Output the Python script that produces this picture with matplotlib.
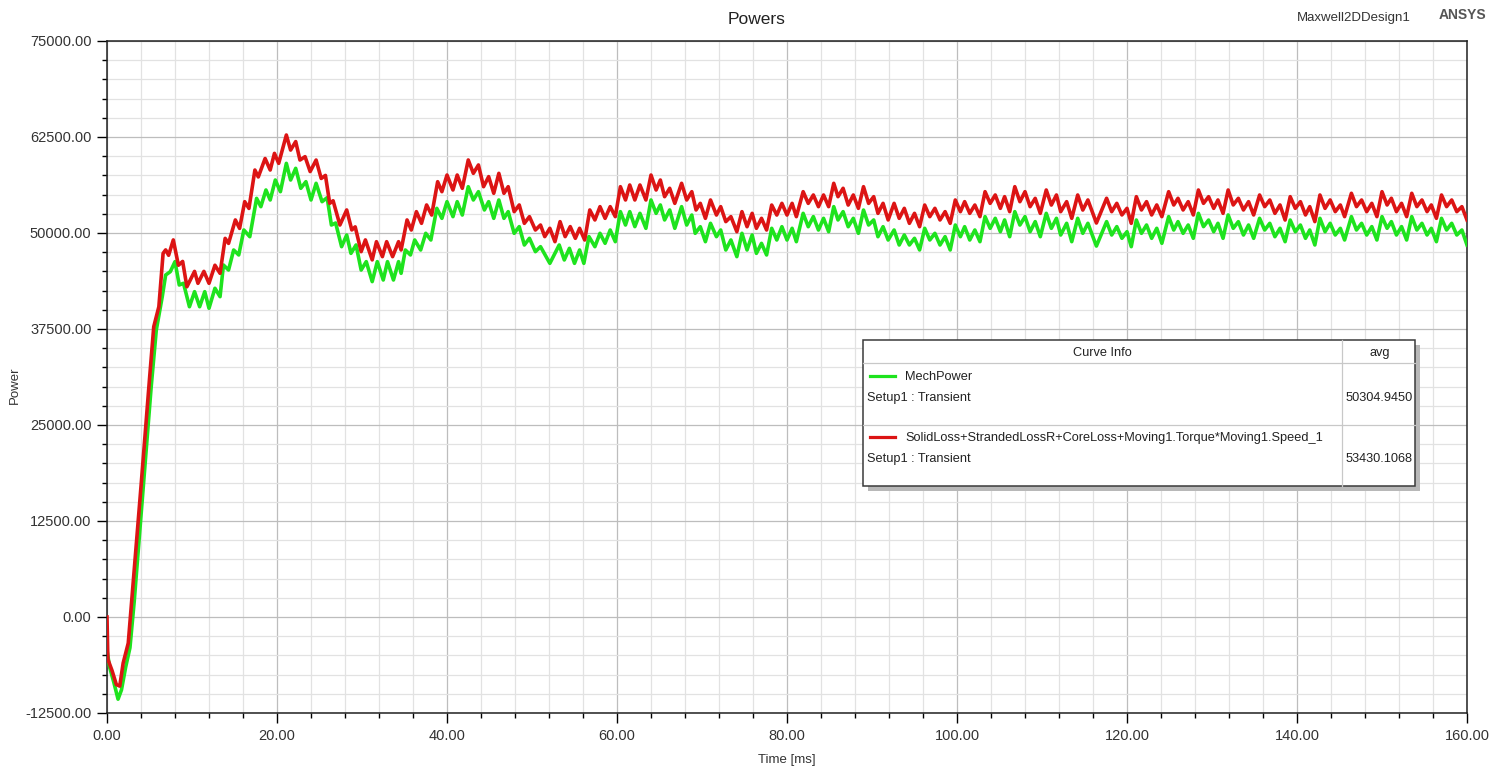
import matplotlib
matplotlib.use("Agg")
import matplotlib.pyplot as plt
from matplotlib.patches import Rectangle
from matplotlib.ticker import MultipleLocator, FormatStrFormatter

plt.rcParams['font.family'] = ['Liberation Sans', 'DejaVu Sans']

# MechPower (green): time [ms], power [W]
mech_t = [0.0, 0.3, 0.8, 1.3, 1.7, 2.2, 2.7, 3.2, 3.7, 4.2, 4.7, 5.2, 5.8, 6.5, 6.9, 7.45,
          8.0, 8.5, 9.0, 9.7, 10.3, 10.9, 11.5, 12.0, 12.7, 13.3, 13.7, 14.3, 14.9, 15.5,
          16.1, 16.8, 17.6, 18.1, 18.7, 19.2, 19.8, 20.4, 21.1, 21.6, 22.2, 22.8, 23.4,
          24.0, 24.6, 25.3, 25.9, 26.4, 26.9, 27.6, 28.2, 28.7, 29.3, 29.9, 30.5, 31.2,
          31.8, 32.5, 33.0, 33.7, 34.3, 34.6, 35.1, 35.7, 36.2, 36.9, 37.5, 38.1, 38.8,
          39.4, 40.0, 40.7, 41.2, 41.8, 42.5, 43.1, 43.7, 44.4, 44.9, 45.5, 46.1, 46.7,
          47.2, 47.9, 48.5, 49.1, 49.7, 50.4, 51.0, 52.1, 53.2, 53.8, 54.4, 55.0, 55.6,
          56.1, 56.7, 57.4, 58.0, 58.6, 59.2, 59.8, 60.4, 61.0, 61.5, 62.1, 62.7, 63.4,
          64.0, 64.6, 65.1, 65.6, 66.2, 66.8, 67.6, 68.2, 68.8, 69.2, 69.8, 70.4, 71.0,
          71.7, 72.2, 72.8, 73.4, 74.1, 74.7, 75.3, 75.9, 76.4, 77.0, 77.6, 78.2, 78.8,
          79.4, 80.0, 80.6, 81.1, 81.9, 82.5, 83.1, 83.7, 84.3, 84.9, 85.5, 86.0, 86.6,
          87.2, 87.8, 88.4, 89.0, 89.6, 90.2, 90.7, 91.3, 91.9, 92.6, 93.2, 93.8, 94.4,
          95.0, 95.6, 96.2, 96.8, 97.4, 98.0, 98.6, 99.2, 99.8, 100.4, 100.9, 101.5,
          102.1, 102.7, 103.3, 103.9, 104.5, 105.1, 105.6, 106.2, 106.8, 107.4, 108.0,
          108.6, 109.2, 109.8, 110.5, 111.1, 111.7, 112.2, 112.9, 113.5, 114.2, 114.8,
          115.4, 116.4, 117.6, 118.2, 118.8, 119.4, 120.0, 120.5, 121.1, 121.7, 122.3,
          122.9, 123.5, 124.1, 124.9, 125.5, 126.0, 126.6, 127.2, 127.8, 128.4, 129.0,
          129.6, 130.2, 130.7, 131.3, 131.9, 132.5, 133.1, 133.7, 134.3, 134.9, 135.6,
          136.2, 136.8, 137.4, 138.0, 138.6, 139.2, 139.8, 140.4, 141.0, 141.5, 142.1,
          142.7, 143.3, 143.9, 144.5, 145.1, 145.6, 146.4, 147.0, 147.6, 148.2, 148.8,
          149.4, 150.0, 150.6, 151.1, 151.7, 152.3, 152.9, 153.5, 154.1, 154.7, 155.3,
          155.8, 156.4, 157.0, 157.6, 158.2, 158.8, 159.4, 160.0]
mech_p = [-4300, -6500, -8500, -10700, -9500, -6500, -4000, 2000, 9000, 16000, 23000, 30000,
          37370, 41710, 44530, 44970, 46270, 43230, 43450, 40400, 42360, 40400, 42360, 40200,
          42800, 41710, 45830, 45180, 47790, 47140, 50390, 49520, 54510, 53430, 55600, 54300,
          56900, 55380, 59070, 56900, 58420, 55820, 56680, 54300, 56470, 54080, 54600, 51040,
          51300, 48220, 49740, 47350, 48440, 45180, 46270, 43670, 46270, 43880, 46270, 43880,
          46270, 44750, 47790, 47140, 49090, 47790, 49960, 49090, 53210, 51910, 54080, 52130,
          54080, 52340, 56030, 54300, 55380, 53000, 54080, 51910, 54300, 51910, 52780, 49960,
          50830, 48440, 49310, 47570, 48220, 46050, 48440, 46490, 48000, 46050, 47790, 46050,
          49530, 48220, 49960, 48660, 50390, 48870, 52780, 51040, 52780, 50830, 52560, 50610,
          54300, 52560, 53650, 51700, 53000, 50610, 53430, 51040, 52340, 49960, 50820, 48870,
          51260, 49520, 50390, 47790, 49090, 46920, 49960, 47790, 49740, 47350, 48650, 47140,
          50610, 49090, 50820, 49090, 50610, 48870, 52560, 50820, 52130, 50390, 51910, 50170,
          53430, 51700, 52780, 50820, 51910, 49960, 52990, 51040, 51700, 49520, 50820, 49090,
          50390, 48440, 49740, 48440, 49310, 47790, 50610, 49090, 49960, 48440, 49520, 47790,
          51040, 49520, 50820, 49090, 50390, 48870, 52130, 50610, 51910, 50170, 51700, 49520,
          52780, 51040, 52130, 50170, 51480, 49520, 52560, 50610, 51910, 49740, 51260, 48870,
          51910, 49960, 51260, 48300, 51480, 49740, 50830, 49310, 50170, 48220, 51690, 49960,
          51040, 49310, 50610, 48660, 52130, 50390, 51480, 49960, 51040, 49310, 52560, 50830,
          51690, 50170, 51260, 49310, 52350, 50610, 51480, 49740, 51040, 49310, 51910, 50390,
          51260, 49520, 50610, 48870, 51690, 50170, 51040, 49310, 50390, 48440, 51910, 50170,
          51260, 49740, 50610, 49090, 52130, 50390, 51260, 49740, 50830, 49090, 52130, 50610,
          51480, 49740, 50830, 49090, 52130, 50390, 51260, 49740, 50610, 48870, 51910, 50390,
          51260, 49740, 50390, 48440]

# SolidLoss+StrandedLossR+CoreLoss+Moving1.Torque*Moving1.Speed_1 (red)
total_t = [0.0, 0.1, 0.6, 1.1, 1.5, 1.9, 2.5, 2.9, 3.5, 4.0, 4.5, 5.0, 5.5, 6.1, 6.6, 6.9,
           7.25, 7.8, 8.4, 8.9, 9.4, 10.3, 10.7, 11.4, 12.0, 12.7, 13.3, 13.9, 14.3, 15.1,
           15.6, 16.2, 16.7, 17.4, 17.8, 18.6, 19.2, 19.7, 20.2, 21.1, 21.6, 22.2, 22.7,
           23.3, 23.9, 24.6, 25.2, 25.7, 26.2, 26.6, 27.4, 28.2, 28.8, 29.2, 29.9, 30.4,
           31.2, 31.7, 32.4, 32.9, 33.6, 34.3, 34.6, 35.3, 35.8, 36.4, 37.0, 37.6, 38.2,
           38.9, 39.4, 40.0, 40.7, 41.2, 41.8, 42.5, 43.1, 43.7, 44.3, 44.9, 45.5, 46.1,
           46.7, 47.2, 47.9, 48.5, 49.1, 49.7, 50.4, 51.0, 51.5, 52.1, 52.7, 53.3, 53.9,
           54.5, 55.1, 55.6, 56.2, 56.8, 57.4, 58.0, 58.6, 59.2, 59.8, 60.4, 61.0, 61.5,
           62.1, 62.7, 63.4, 64.0, 64.6, 65.1, 65.6, 66.2, 66.8, 67.6, 68.2, 68.8, 69.3,
           69.8, 70.4, 71.0, 71.7, 72.2, 72.8, 73.4, 74.1, 74.7, 75.3, 75.9, 76.4, 77.0,
           77.6, 78.2, 78.8, 79.4, 80.0, 80.6, 81.1, 81.9, 82.5, 83.1, 83.7, 84.3, 84.9,
           85.5, 86.0, 86.6, 87.2, 87.8, 88.4, 89.0, 89.6, 90.2, 90.7, 91.3, 91.9, 92.6,
           93.2, 93.8, 94.4, 95.0, 95.6, 96.2, 96.8, 97.4, 98.0, 98.6, 99.2, 99.8, 100.4,
           100.9, 101.5, 102.1, 102.7, 103.3, 103.9, 104.5, 105.1, 105.6, 106.2, 106.8,
           107.4, 108.0, 108.6, 109.2, 109.8, 110.5, 111.1, 111.7, 112.2, 112.9, 113.5,
           114.2, 114.8, 115.4, 116.4, 117.6, 118.2, 118.8, 119.4, 120.0, 120.5, 121.1,
           121.7, 122.3, 122.9, 123.5, 124.1, 124.9, 125.5, 126.0, 126.6, 127.2, 127.8,
           128.4, 129.0, 129.6, 130.2, 130.7, 131.3, 131.9, 132.5, 133.1, 133.7, 134.3,
           134.9, 135.6, 136.2, 136.8, 137.4, 138.0, 138.6, 139.2, 139.8, 140.4, 141.0,
           141.5, 142.1, 142.7, 143.3, 143.9, 144.5, 145.1, 145.6, 146.4, 147.0, 147.6,
           148.2, 148.8, 149.4, 150.0, 150.6, 151.1, 151.7, 152.3, 152.9, 153.5, 154.1,
           154.7, 155.3, 155.8, 156.4, 157.0, 157.6, 158.2, 158.8, 159.4, 160.0]
total_p = [0, -5500, -7000, -8800, -9000, -6000, -3400, 2000, 10000, 17000, 24000, 31000,
           37800, 40400, 47350, 47800, 47100, 49100, 45800, 46300, 43000, 45000, 43450, 45000,
           43450, 45800, 44750, 49300, 48650, 51700, 50600, 54080, 53200, 58200, 57300, 59700,
           58200, 60370, 59070, 62760, 60800, 61900, 59500, 59940, 58000, 59500, 57100, 57500,
           53860, 54200, 51040, 53000, 50400, 50800, 47570, 49100, 46500, 48870, 46920, 48870,
           46920, 48870, 47790, 51700, 50390, 52780, 51260, 53650, 52340, 56680, 55380, 57550,
           55600, 57550, 55820, 59510, 57770, 58860, 56030, 57340, 55170, 57770, 55170, 56030,
           52780, 53650, 51260, 52130, 50390, 51040, 49530, 50610, 48870, 51480, 49530, 50830,
           49310, 50610, 49090, 53000, 51700, 53430, 51910, 53430, 52130, 56030, 54300, 56250,
           54300, 56250, 54300, 57550, 55600, 56900, 54730, 55820, 53860, 56470, 54300, 55380,
           53000, 53860, 51910, 54300, 52340, 53430, 51480, 52130, 50170, 52780, 50820, 52560,
           50610, 51910, 50390, 53640, 52340, 53860, 52340, 53860, 52130, 55380, 53860, 54950,
           53430, 54950, 53430, 56470, 54730, 55820, 53640, 54950, 53210, 56030, 53860, 54730,
           52560, 53860, 51700, 53860, 51910, 53210, 51260, 52560, 50820, 53640, 52130, 53210,
           51700, 52780, 51260, 54300, 52780, 54080, 52560, 53640, 52130, 55380, 53860, 54950,
           53210, 54730, 52780, 56030, 54080, 55380, 53430, 54510, 52560, 55600, 53640, 54950,
           52780, 54080, 51910, 54950, 52990, 54300, 51300, 54520, 52780, 53860, 52350, 53210,
           51260, 54730, 53000, 54080, 52350, 53650, 52130, 55380, 53650, 54520, 53000, 54080,
           52350, 55600, 53860, 54730, 53210, 54300, 52560, 55600, 53650, 54520, 53000, 54080,
           52350, 54950, 53430, 54300, 52560, 53650, 51690, 54730, 53210, 54080, 52350, 53430,
           51480, 54950, 53210, 54300, 52780, 53650, 52130, 55170, 53430, 54300, 52780, 53860,
           52130, 55380, 53650, 54520, 52780, 53860, 52130, 55170, 53430, 54300, 52780, 53650,
           51910, 54950, 53430, 54300, 52780, 53430, 51690]

legend_names = ['MechPower', 'SolidLoss+StrandedLossR+CoreLoss+Moving1.Torque*Moving1.Speed_1']
legend_avg = ['50304.9450', '53430.1068']
GREEN = '#1ee31e'
RED = '#dc1414'
TXT = '#333333'

W, H = 1505, 769
fig = plt.figure(figsize=(W / 100, H / 100), dpi=100)
ax = fig.add_axes([107 / W, 1 - 713 / H, (1467 - 107) / W, (713 - 41) / H])

ax.plot(mech_t, mech_p, color=GREEN, linewidth=2.6, solid_joinstyle='round', zorder=3)
ax.plot(total_t, total_p, color=RED, linewidth=2.6, solid_joinstyle='round', zorder=4)

ax.set_xlim(0, 160)
ax.set_ylim(-12500, 75000)
ax.xaxis.set_major_locator(MultipleLocator(20))
ax.xaxis.set_minor_locator(MultipleLocator(4))
ax.yaxis.set_major_locator(MultipleLocator(12500))
ax.yaxis.set_minor_locator(MultipleLocator(2500))
ax.xaxis.set_major_formatter(FormatStrFormatter('%.2f'))
ax.yaxis.set_major_formatter(FormatStrFormatter('%.2f'))

ax.grid(True, which='major', color='#bdbdbd', linewidth=0.9)
ax.grid(True, which='minor', color='#e2e2e2', linewidth=0.9)
ax.set_axisbelow(True)

ax.tick_params(which='major', direction='out', length=7.2, width=1, pad=4,
               labelsize=10.5, labelcolor=TXT)
ax.tick_params(which='minor', direction='out', length=3.6, width=1)
for s in ax.spines.values():
    s.set_linewidth(1.1)
    s.set_color('#202020')

# axis titles placed by hand at the reference's pixel positions
fig.text(787 / W, 1 - 760 / H, 'Time [ms]', fontsize=9.5, ha='center', va='center', color=TXT)
fig.text(15 / W, 1 - 385 / H, 'Power', fontsize=9.5, ha='center', va='center', rotation=90,
         color=TXT)

fig.text(757 / W, 1 - 19 / H, 'Powers', fontsize=12.5, ha='center', va='center', color='#222222')
fig.text(1354 / W, 1 - 18 / H, 'Maxwell2DDesign1', fontsize=9.5, ha='center', va='center', color=TXT)
fig.text(1462 / W, 1 - 15 / H, 'ANSYS', fontsize=10, ha='center', va='center', color='#555555',
         fontweight='bold')

# curve info table, in pixel units relative to its top-left corner
bx, by, bw, bh = 863, 340, 552, 146
lg = fig.add_axes([bx / W, 1 - (by + bh) / H, bw / W, bh / H])
lg.set_xlim(0, bw)
lg.set_ylim(bh, 0)
lg.axis('off')
lg.add_patch(Rectangle((5, 5), bw, bh, facecolor='#b8b8b8', edgecolor='none', clip_on=False, zorder=1))
lg.add_patch(Rectangle((0, 0), bw, bh, facecolor='white', edgecolor='#3a3a3a', linewidth=1.1,
                       clip_on=False, zorder=2))
lg.plot([0, bw], [23, 23], color='#c8c8c8', linewidth=0.9, zorder=3, clip_on=False)
lg.plot([0, bw], [85, 85], color='#c8c8c8', linewidth=0.9, zorder=3, clip_on=False)
lg.plot([479, 479], [0, bh], color='#c8c8c8', linewidth=0.9, zorder=3, clip_on=False)

fs = 9.2
lg.text(239, 13, 'Curve Info', fontsize=fs, ha='center', va='center', color='#222222', zorder=4)
lg.text(517, 13, 'avg', fontsize=fs, ha='center', va='center', color='#222222', zorder=4)
for i, (name, avg, col) in enumerate(zip(legend_names, legend_avg, [GREEN, RED])):
    y0 = 37 + i * 61
    lg.plot([7, 32], [y0 - 1, y0 - 1], color=col, linewidth=2.3, zorder=4, clip_on=False)
    lg.text(42, y0, name, fontsize=fs, ha='left', va='center', color='#222222', zorder=4)
    lg.text(4, y0 + 21, 'Setup1 : Transient', fontsize=fs, ha='left', va='center',
            color='#222222', zorder=4)
    lg.text(516, y0 + 21, avg, fontsize=fs, ha='center', va='center', color='#222222', zorder=4)

fig.savefig('out.png', dpi=100, facecolor='white')
